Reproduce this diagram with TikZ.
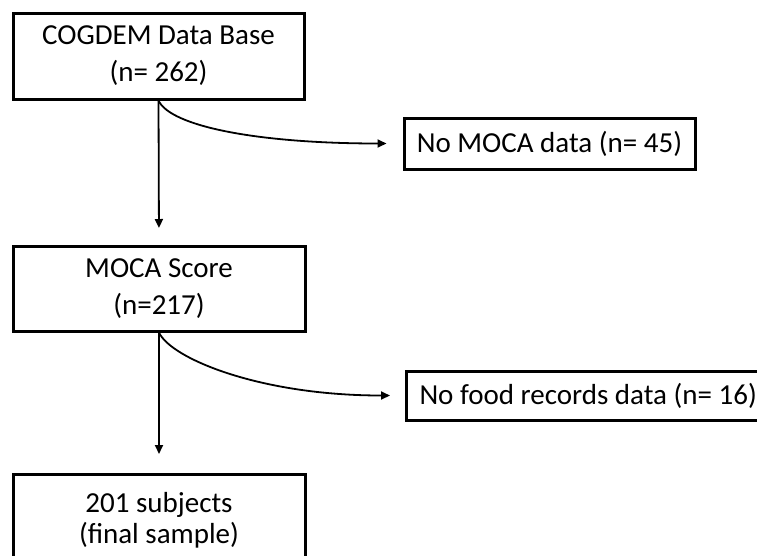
\documentclass[tikz,border=0pt]{standalone}
\usepackage{fontspec}
\setmainfont{Carlito}
\usetikzlibrary{arrows.meta}
\begin{document}
\begin{tikzpicture}[x=1pt,y=-1pt,
  box/.style={draw, line width=3pt, fill=white, align=center,
    font=\fontsize{29}{37}\selectfont, inner sep=0pt},
  flow/.style={line width=1.8pt, -{Triangle[length=9pt,width=8pt]}}]
\useasboundingbox (0,0) rectangle (757,555);
\clip (0,0) rectangle (757,555);

% boxes of the flow
\node[box, minimum width=291pt, minimum height=86pt] (db) at (158.5,56) {COGDEM Data Base\\(n= 262)};
\node[box, minimum width=291pt, minimum height=51pt] (nomoca) at (549.5,143.5) {No MOCA data (n= 45)};
\node[box, minimum width=292pt, minimum height=85pt, text depth=4pt] (moca) at (159,288.5) {MOCA Score\\(n=217)};
\node[box, anchor=west, minimum height=49pt, inner xsep=13pt] (nofood) at (405,395.5) {No food records data (n= 16)};
\node[box, anchor=north, minimum width=292pt, minimum height=92pt,
  font=\fontsize{29}{31}\selectfont] (final) at (159,473) {201 subjects\\(final sample)};

% connectors
\draw[flow, shorten >=16pt] (db.south) .. controls +(12,26) and +(-144,0) .. (nomoca.west);
\draw[flow, shorten >=16.5pt] (db.south) -- (moca.north);
\draw[flow, shorten >=15pt] (moca.south) .. controls +(12,26) and +(-145,0) .. (nofood.west);
\draw[flow, shorten >=19pt] (moca.south) -- (final.north);
\end{tikzpicture}
\end{document}
